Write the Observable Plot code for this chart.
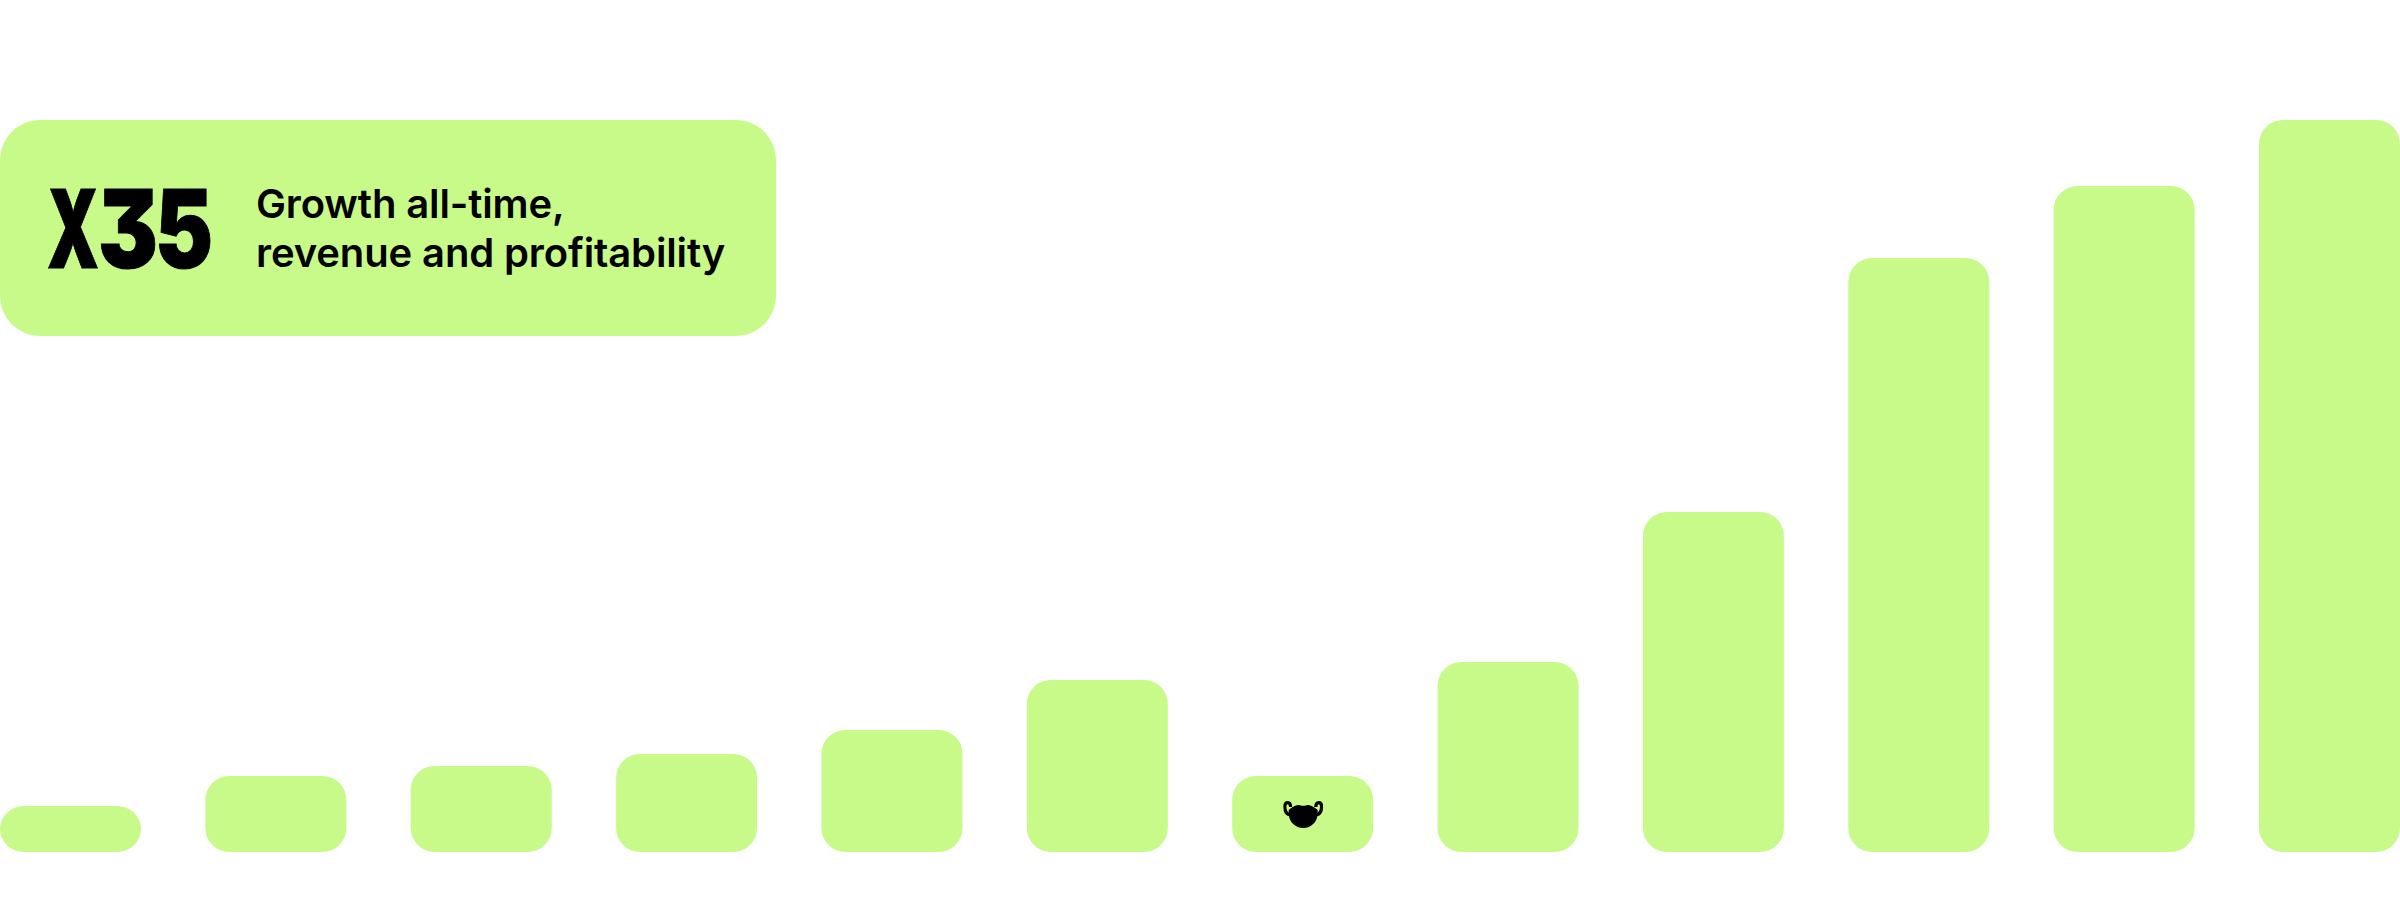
<!DOCTYPE html>
<html>
<head>
<meta charset="utf-8">
<script src="https://cdn.jsdelivr.net/npm/d3@7"></script>
<script src="https://cdn.jsdelivr.net/npm/@observablehq/plot@0.6"></script>
<style>
html,body{margin:0;padding:0;background:#fff;overflow:hidden}
#wrap{position:relative;width:2400px;height:920px}
#wrap svg{display:block}
#callout{position:absolute;left:0;top:120px;width:776px;height:216px;background:#c8fa8a;border-radius:40px;color:#000;font-family:Inter,sans-serif}
.big{position:absolute;top:1px;font-weight:900;font-size:108px;line-height:216px;transform-origin:0 50%;white-space:nowrap;font-feature-settings:"cv09";-webkit-text-stroke:1px #000}
#sub{position:absolute;left:256px;top:59px;font-weight:600;font-size:40px;line-height:49px;white-space:nowrap;letter-spacing:-0.12px}
</style>
</head>
<body>
<div id="wrap">
<div id="callout"><span class="big" data-l="47" data-w="52">X</span><span class="big" data-l="98" data-w="60">3</span><span class="big" data-l="155" data-w="58">5</span><div id="sub">Growth all-time,<br>revenue and profitability</div></div>
</div>
<script>
const periods = ["P1","P2","P3","P4","P5","P6","P7","P8","P9","P10","P11","P12"];
const values = [46, 76, 86, 98, 122, 172, 76, 190, 340, 594, 666, 732];
const bars = periods.map((period, i) => ({period, value: values[i]}));
const iconPeriod = ["P7"];
const iconLevel = [38];
const maskIcon = "data:image/svg+xml," + encodeURIComponent(
  '<svg xmlns="http://www.w3.org/2000/svg" viewBox="0 0 40 27">' +
  '<path d="M5.5 9C9 6 12 4.2 15 4C17 3.9 18 4.8 20 4.8C22 4.8 23 3.9 25 4C28 4.2 31 6 34.5 9V12.5A14.5 14.5 0 0 1 5.5 12.5Z" fill="#000"/>' +
  '<path d="M7.5 14C3 13.5 1.6 10.5 1.6 5.5C1.6 2.6 3 1.6 4.5 1.6C6.4 1.6 7.4 3 7.4 6" fill="none" stroke="#000" stroke-width="3.2"/>' +
  '<path d="M32.5 14C37 13.5 38.4 10.5 38.4 5.5C38.4 2.6 37 1.6 35.5 1.6C33.6 1.6 32.6 3 32.6 6" fill="none" stroke="#000" stroke-width="3.2"/>' +
  '</svg>');

const chart = Plot.plot({
  width: 2400, height: 920,
  marginTop: 120, marginBottom: 68, marginLeft: 0, marginRight: 0,
  x: {domain: periods, axis: null, paddingInner: 0.3134, paddingOuter: 0, round: false},
  y: {domain: [0, 732], axis: null},
  style: {background: "transparent"},
  marks: [
    Plot.barY(bars, {x: "period", y: "value", fill: "#c8fa8a", rx: 24}),
    Plot.image(iconPeriod.map((p, i) => ({p, v: iconLevel[i]})), {x: "p", y: "v", src: () => maskIcon, width: 40, height: 27})
  ]
});
const wrap = document.getElementById("wrap");
wrap.insertBefore(chart, wrap.firstChild);
document.querySelectorAll(".big").forEach(el => {
  const box = el.getBoundingClientRect().width;
  el.style.left = el.dataset.l + "px";
  el.style.transform = `scaleX(${el.dataset.w / box})`;
});
</script>
</body>
</html>
